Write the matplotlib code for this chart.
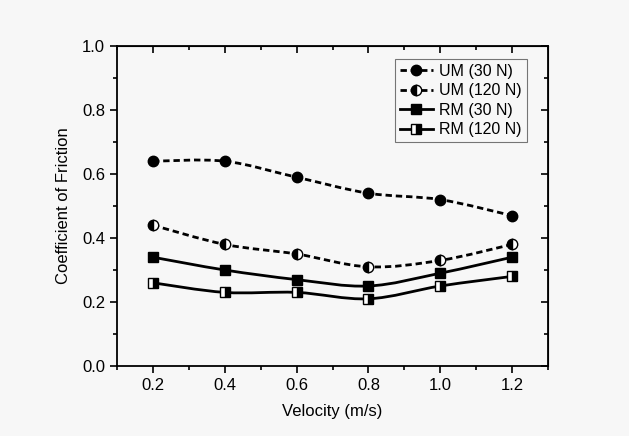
import numpy as np
import matplotlib.pyplot as plt
from matplotlib.path import Path
from matplotlib.patches import PathPatch
from matplotlib.lines import Line2D
from matplotlib.ticker import MultipleLocator

plt.rcParams['font.family'] = ['Liberation Sans', 'DejaVu Sans']

# ── Data ────────────────────────────────────────────────────────────────────
velocity = [0.2, 0.4, 0.6, 0.8, 1.0, 1.2]
um_30 = [0.64, 0.64, 0.59, 0.54, 0.52, 0.47]
um_120 = [0.44, 0.38, 0.35, 0.31, 0.33, 0.38]
rm_30 = [0.34, 0.30, 0.27, 0.25, 0.29, 0.34]
rm_120 = [0.26, 0.23, 0.23, 0.21, 0.25, 0.28]
labels = ['UM (30 N)', 'UM (120 N)', 'RM (30 N)', 'RM (120 N)']


def smooth_path(x, y, tension=6.0):
    """Cubic Bezier path through the points (Catmull-Rom style)."""
    x = np.asarray(x, float)
    y = np.asarray(y, float)
    verts = [(x[0], y[0])]
    codes = [Path.MOVETO]
    n = len(x)
    for i in range(n - 1):
        i0 = max(i - 1, 0)
        i3 = min(i + 2, n - 1)
        c1 = (x[i] + (x[i + 1] - x[i0]) / tension, y[i] + (y[i + 1] - y[i0]) / tension)
        c2 = (x[i + 1] - (x[i3] - x[i]) / tension, y[i + 1] - (y[i3] - y[i]) / tension)
        verts += [c1, c2, (x[i + 1], y[i + 1])]
        codes += [Path.CURVE4] * 3
    return Path(verts, codes)


fig = plt.figure(figsize=(6.29, 4.36), dpi=100, facecolor='#f7f7f7')
ax = fig.add_axes([117 / 629, 70 / 436, 431 / 629, 320 / 436])
ax.set_facecolor('#f7f7f7')

dash = (0, (2.3, 1.4))
series = [
    (um_30, dict(marker='o', fillstyle='full'), dash),
    (um_120, dict(marker='o', fillstyle='left'), dash),
    (rm_30, dict(marker='s', fillstyle='full'), '-'),
    (rm_120, dict(marker='s', fillstyle='right'), '-'),
]

handles = []
for (vals, mk, ls), lab in zip(series, labels):
    ax.add_patch(PathPatch(smooth_path(velocity, vals), fill=False, ec='black',
                           lw=2.0, ls=ls, zorder=2))
    ax.plot(velocity, vals, ls='none', color='black', markersize=7.5,
            markerfacecoloralt='white', markeredgecolor='black', zorder=3, **mk)
    handles.append(Line2D([], [], color='black', lw=2.0, ls=ls, markersize=7.5,
                          markerfacecoloralt='white', markeredgecolor='black', **mk))

ax.set_xlim(0.1, 1.3)
ax.set_ylim(0.0, 1.0)
ax.xaxis.set_major_locator(MultipleLocator(0.2))
ax.xaxis.set_minor_locator(MultipleLocator(0.1))
ax.yaxis.set_major_locator(MultipleLocator(0.2))
ax.yaxis.set_minor_locator(MultipleLocator(0.1))
ax.xaxis.set_major_formatter(plt.FuncFormatter(lambda v, p: f'{v:.1f}'))
ax.yaxis.set_major_formatter(plt.FuncFormatter(lambda v, p: f'{v:.1f}'))
ax.tick_params(which='major', direction='out', length=5, width=1.2, labelsize=12)
ax.tick_params(which='minor', direction='out', length=3, width=1.2)
for s in ax.spines.values():
    s.set_linewidth(1.3)

# inward ticks on top and right spines (no labels)
top = ax.secondary_xaxis('top')
top.xaxis.set_major_locator(MultipleLocator(0.2))
top.xaxis.set_minor_locator(MultipleLocator(0.1))
top.tick_params(which='both', direction='in', labeltop=False, width=1.2)
top.tick_params(which='major', length=5)
top.tick_params(which='minor', length=3)
right = ax.secondary_yaxis('right')
right.yaxis.set_major_locator(MultipleLocator(0.2))
right.yaxis.set_minor_locator(MultipleLocator(0.1))
right.tick_params(which='both', direction='in', labelright=False, width=1.2)
right.tick_params(which='major', length=5)
right.tick_params(which='minor', length=3)

ax.set_xlabel('Velocity (m/s)', fontsize=12, labelpad=8)
ax.set_ylabel('Coefficient of Friction', fontsize=12, labelpad=8)

leg = ax.legend(handles, labels, loc='upper right', bbox_to_anchor=(0.951, 0.959),
                fontsize=11.5, frameon=True, fancybox=False, handlelength=2.1,
                handletextpad=0.4, borderpad=0.3, labelspacing=0.28,
                borderaxespad=0.0)
leg.get_frame().set_edgecolor('#555555')
leg.get_frame().set_linewidth(0.8)
leg.get_frame().set_facecolor('#f7f7f7')

plt.savefig('out.png', dpi=100, facecolor=fig.get_facecolor())
